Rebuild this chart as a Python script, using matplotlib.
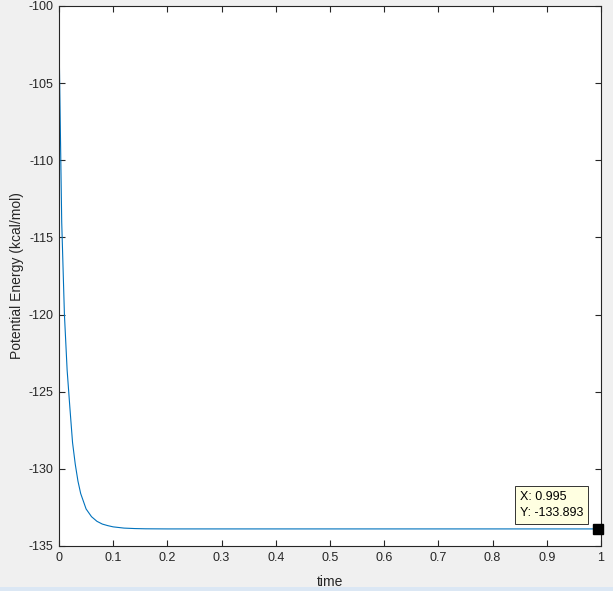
import matplotlib
matplotlib.use("Agg")
import matplotlib.pyplot as plt
from matplotlib.patches import Rectangle

# Data
time = [0.0, 0.005, 0.01, 0.015, 0.02, 0.025, 0.03, 0.035, 0.04, 0.045,
        0.05, 0.06, 0.07, 0.08, 0.09, 0.10, 0.12, 0.14, 0.16, 0.20,
        0.40, 0.60, 0.80, 0.995]
energy = [-102.0, -114.0, -120.0, -123.6, -126.0, -128.3, -129.7, -130.8, -131.6, -132.1,
          -132.6, -133.1, -133.4, -133.58, -133.68, -133.76, -133.84, -133.87, -133.885, -133.893,
          -133.893, -133.893, -133.893, -133.893]
tip_x = 0.995
tip_y = -133.893
xticks = [0, 0.1, 0.2, 0.3, 0.4, 0.5, 0.6, 0.7, 0.8, 0.9, 1]
xticklabels = ["0", "0.1", "0.2", "0.3", "0.4", "0.5", "0.6", "0.7", "0.8", "0.9", "1"]
yticks = [-135, -130, -125, -120, -115, -110, -105, -100]

plt.rcParams['font.family'] = ['Liberation Sans', 'DejaVu Sans']
plt.rcParams['axes.unicode_minus'] = False

fig = plt.figure(figsize=(6.13, 5.91), dpi=100, facecolor='#f0f0f0')
fig.patches.append(Rectangle((0, 0), 1, 4/591, transform=fig.transFigure,
                             facecolor='#dbe7f4', edgecolor='none', zorder=-1))
ax = fig.add_axes([59/613, 1 - 546/591, 542/613, 540/591])
ax.set_facecolor('white')
ax.plot(time, energy, color='#0072BD', lw=0.8)
ax.set_xlim(0, 1)
ax.set_ylim(-135, -100)
ax.set_xticks(xticks)
ax.set_xticklabels(xticklabels)
ax.set_yticks(yticks)
for s in ax.spines.values():
    s.set_color('#262626')
    s.set_linewidth(0.8)
ax.tick_params(direction='in', length=4, width=0.8, color='#262626',
               labelcolor='#262626', labelsize=9, top=True, right=True, pad=4)
ax.set_xlabel('time', fontsize=10, color='#262626', labelpad=8)
ax.set_ylabel('Potential Energy (kcal/mol)', fontsize=10, color='#262626', labelpad=3)

ax.plot([tip_x], [tip_y], marker='s', color='black', ms=6.5, clip_on=False, zorder=5)
ax.annotate(f"X: {tip_x}\nY: {tip_y}", xy=(tip_x, tip_y), xycoords='data',
            xytext=(-15, 10), textcoords='offset pixels', ha='right', va='bottom',
            multialignment='left',
            fontsize=9, color='black', linespacing=1.45,
            bbox=dict(boxstyle='square,pad=0.38', facecolor='#ffffe1', edgecolor='#333333', lw=0.7),
            zorder=6)

fig.savefig('out.png', dpi=100, facecolor=fig.get_facecolor())
